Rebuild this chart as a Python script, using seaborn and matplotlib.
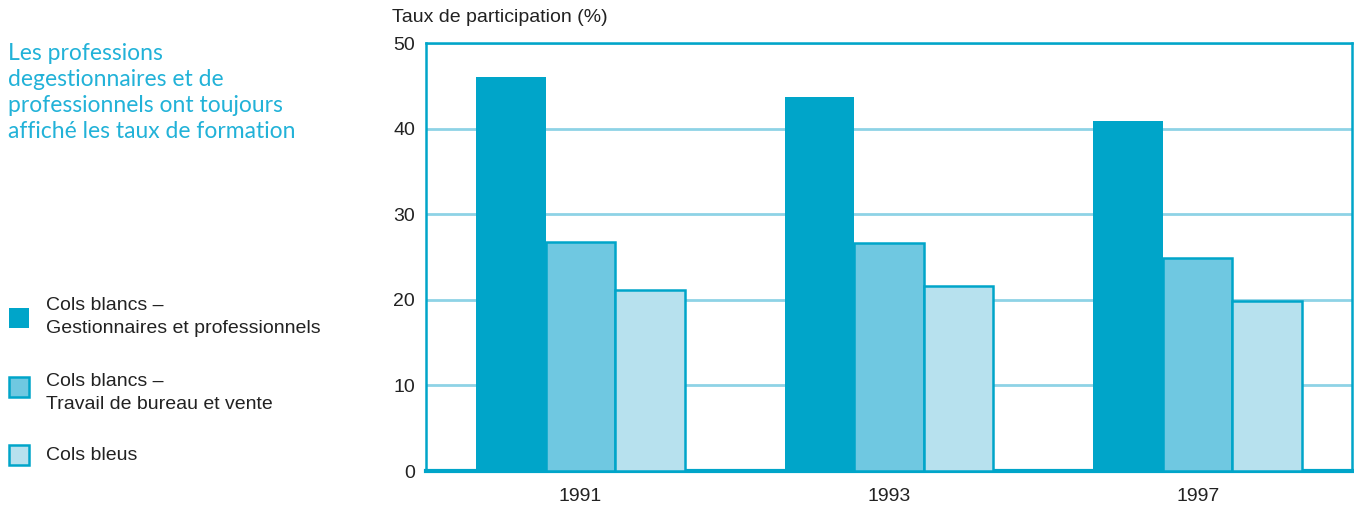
import matplotlib
matplotlib.use("Agg")
import matplotlib.pyplot as plt
import seaborn as sns
import pandas as pd
from matplotlib.patches import Rectangle

years = ["1991", "1993", "1997"]
groups = [
    "Cols blancs –\nGestionnaires et professionnels",
    "Cols blancs –\nTravail de bureau et vente",
    "Cols bleus",
]
gestionnaires = [46.0, 43.7, 40.9]
bureau_vente = [26.8, 26.6, 24.9]
cols_bleus = [21.1, 21.6, 19.9]

fill_colors = ["#00A5C9", "#6FC8E1", "#B7E1EE"]
edge = "#00A5C9"
grid_col = "#8ED3E6"
note_col = "#22B2D8"
text_col = "#222222"

rows = []
for g, vals in zip(groups, [gestionnaires, bureau_vente, cols_bleus]):
    for y, v in zip(years, vals):
        rows.append({"year": y, "group": g, "value": v})
df = pd.DataFrame(rows)

sns.set_style("white")
plt.rcParams["font.family"] = ["Liberation Sans", "DejaVu Sans"]

W, H = 1354, 508
fig = plt.figure(figsize=(W / 100, H / 100), dpi=100)
ax = fig.add_axes([426 / W, 37 / H, 926 / W, 428 / H])

sns.barplot(data=df, x="year", y="value", hue="group", hue_order=groups,
            palette=fill_colors, saturation=1, width=0.675, gap=0,
            legend=False, ax=ax, zorder=3)
for i, cont in enumerate(ax.containers):
    for bar in cont:
        bar.set_edgecolor(edge)
        bar.set_linewidth(0 if i == 0 else 1.8)

ax.set_ylim(0, 50)
ax.set_xlim(-0.5, 2.5)
ax.set_yticks([0, 10, 20, 30, 40, 50])
ax.yaxis.grid(True, color=grid_col, lw=2, zorder=0)
ax.set_axisbelow(True)
ax.tick_params(length=0, labelsize=14, colors=text_col)
ax.tick_params(axis="y", pad=8)
ax.tick_params(axis="x", pad=12)
ax.set_xlabel("")
ax.set_ylabel("")
for s in ax.spines.values():
    s.set_color(edge)
    s.set_linewidth(1.8)
ax.spines["bottom"].set_linewidth(3)

fig.text(392 / W, 1 - 18 / H, "Taux de participation (%)", fontsize=14,
         color=text_col, ha="left", va="center")

fig.text(8 / W, 1 - 43 / H,
         "Les professions\ndegestionnaires et de\nprofessionnels ont toujours\naffiché les taux de formation",
         fontsize=16.5, color=note_col, ha="left", va="top", linespacing=1.3,
         family=["Lato", "DejaVu Sans"])

# legend, drawn by hand to match the two-line layout
legend_rows = [(318, 317), (387, 393), (455, 456)]
for i, (g, (ym, yt)) in enumerate(zip(groups, legend_rows)):
    fig.patches.append(Rectangle((9 / W, 1 - (ym + 10) / H), 20 / W, 20 / H,
                                 transform=fig.transFigure,
                                 facecolor=fill_colors[i], edgecolor=edge,
                                 linewidth=0 if i == 0 else 1.8))
    fig.text(46 / W, 1 - yt / H, g, fontsize=14, color=text_col,
             ha="left", va="center", linespacing=1.4)

fig.savefig("out.png", dpi=100)
